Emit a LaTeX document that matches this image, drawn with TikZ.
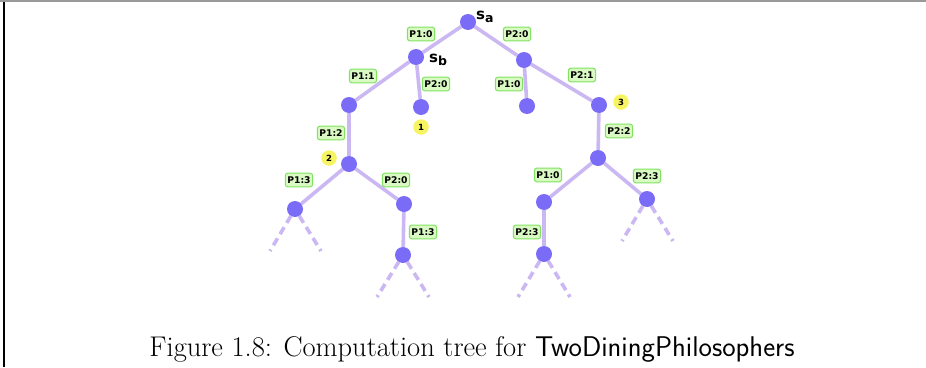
\documentclass[tikz,border=0pt]{standalone}
\usepackage{fontspec}
\newfontfamily\lblfont{DejaVu Sans}
\usetikzlibrary{backgrounds}
\definecolor{edgec}{RGB}{203,184,243}
\definecolor{nodec}{RGB}{122,108,246}
\definecolor{lblfill}{RGB}{218,250,196}
\definecolor{lbldraw}{RGB}{128,226,96}
\definecolor{yel}{RGB}{246,244,96}
\tikzset{
  st/.style={circle,fill=nodec,minimum size=16pt,inner sep=0pt},
  act/.style={rectangle,rounded corners=2.5pt,fill=lblfill,draw=lbldraw,line width=1pt,
    inner xsep=2pt,inner ysep=3.4pt,font=\lblfont\bfseries\fontsize{9.2}{10}\selectfont},
  num/.style={circle,fill=yel,minimum size=15.5pt,inner sep=0pt,font=\lblfont\bfseries\fontsize{8.5}{9}\selectfont},
  tr/.style={draw=edgec,line width=3.6pt},
  trd/.style={draw=edgec,line width=3.6pt,dash pattern=on 8pt off 5pt},
  sname/.style={font=\lblfont\bfseries\fontsize{15}{16}\selectfont}
}
\begin{document}
\begin{tikzpicture}[x=1pt,y=-1pt]
\useasboundingbox (0,0) rectangle (926,367);
\draw[gray!80,line width=1.5pt] (0,1) -- (926,1);
\draw[black,line width=1.5pt] (4,2) -- (4,367);
% states
\node[st] (sa) at (468,22) {};
\node[st] (sb) at (416,57) {};
\node[st] (r1) at (524,60) {};
\node[st] (l2) at (349,105) {};
\node[st] (m2) at (421,107) {};
\node[st] (r2a) at (527,106) {};
\node[st] (r2b) at (599,105) {};
\node[st] (l3) at (349,164) {};
\node[st] (r3) at (598,158) {};
\node[st] (l4a) at (295,209) {};
\node[st] (l4b) at (404,204) {};
\node[st] (l5) at (403,255) {};
\node[st] (r4a) at (544,202) {};
\node[st] (r4b) at (647,199) {};
\node[st] (r5) at (544,254) {};
% free ends
\coordinate (e1) at (270,251);
\coordinate (e2) at (321,251);
\coordinate (e3) at (377,297);
\coordinate (e4) at (429,297);
\coordinate (e5) at (518,297);
\coordinate (e6) at (570,297);
\coordinate (e7) at (622,241);
\coordinate (e8) at (673,241);
% names
\node[sname,anchor=west,inner sep=1pt] (na) at (475,17) {s\raisebox{-3.5pt}{\fontsize{12.5}{13}\selectfont a}};
\node[sname,anchor=west,inner sep=1pt] (nb) at (428,60) {s\raisebox{-3.5pt}{\fontsize{12.5}{13}\selectfont b}};
\begin{scope}[on background layer]
\draw[tr] (sa) -- (sb);
\draw[tr] (sa) -- (r1);
\draw[tr] (sb) -- (l2);
\draw[tr] (sb) -- (m2);
\draw[tr] (r1) -- (r2a);
\draw[tr] (r1) -- (r2b);
\draw[tr] (l2) -- (l3);
\draw[tr] (r2b) -- (r3);
\draw[tr] (l3) -- (l4a);
\draw[tr] (l3) -- (l4b);
\draw[tr] (l4b) -- (l5);
\draw[tr] (r3) -- (r4a);
\draw[tr] (r3) -- (r4b);
\draw[tr] (r4a) -- (r5);
\draw[trd] (l4a) -- (e1);
\draw[trd] (l4a) -- (e2);
\draw[trd] (l5) -- (e3);
\draw[trd] (l5) -- (e4);
\draw[trd] (r5) -- (e5);
\draw[trd] (r5) -- (e6);
\draw[trd] (r4b) -- (e7);
\draw[trd] (r4b) -- (e8);
\end{scope}
% action labels
\node[act] (a1) at (421,34) {P1:0};
\node[act] (a2) at (517,34) {P2:0};
\node[act] (a3) at (436,84) {P2:0};
\node[act] (a4) at (363,76) {P1:1};
\node[act] (a5) at (509,84) {P1:0};
\node[act] (a6) at (582,75) {P2:1};
\node[act] (a7) at (331,133) {P1:2};
\node[act] (a8) at (619,131) {P2:2};
\node[act] (a9) at (299,180) {P1:3};
\node[act] (a10) at (396,180) {P2:0};
\node[act] (a11) at (548,175) {P1:0};
\node[act] (a12) at (647,176) {P2:3};
\node[act] (a13) at (423,232) {P1:3};
\node[act] (a14) at (527,232) {P2:3};
% numbers
\node[num] (n1) at (421,127) {1};
\node[num] (n2) at (329,158) {2};
\node[num] (n3) at (621,102) {3};
% caption
\node[font=\fontsize{28.5}{32}\selectfont,inner sep=0pt] (cap) at (472,349) {Figure 1.8: Computation tree for \textsf{TwoDiningPhilosophers}};
\end{tikzpicture}
\end{document}
